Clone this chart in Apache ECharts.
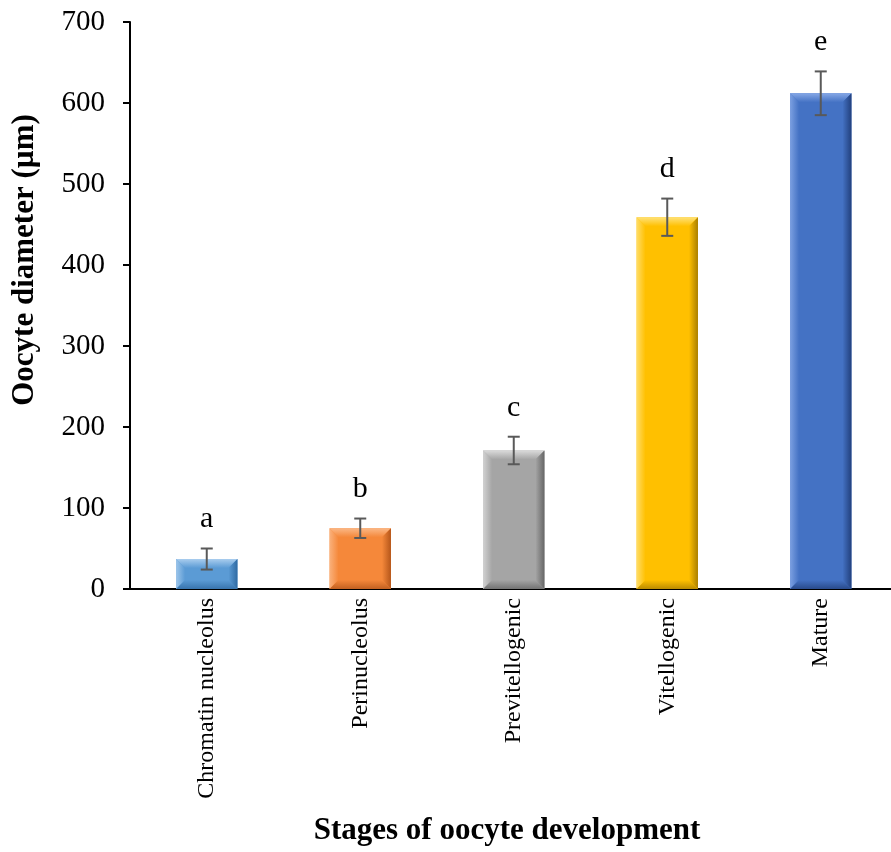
<!DOCTYPE html>
<html>
<head>
<meta charset="utf-8">
<script src="https://cdn.jsdelivr.net/npm/echarts@6/dist/echarts.min.js"></script>
<style>
  html, body { margin: 0; padding: 0; background: #fff; overflow: hidden; }
  #chart { width: 905px; height: 852px; }
</style>
</head>
<body>
<div id="chart"></div>
<script>
// Oocyte development stages and mean diameters (µm) with error margins
const stages = ['Chromatin nucleolus', 'Perinucleolus', 'Previtellogenic', 'Vitellogenic', 'Mature'];
const meanDiameter = [37, 75, 171, 459, 612];
const errorMargin = [13, 12, 17, 23, 27];
const groupLetters = ['a', 'b', 'c', 'd', 'e'];
const yTicks = { min: 0, max: 700, step: 100 };

// Bevelled bar palette: [base, highlight, shade]
const palette = [
  ['#5B9BD5', '#A9CDEE', '#2F6AA3'],
  ['#F5883A', '#FBB887', '#B5561A'],
  ['#A5A5A5', '#DADADA', '#666666'],
  ['#FFC000', '#FFE27A', '#A97E00'],
  ['#4472C4', '#86A8E6', '#22407D']
];

const serif = '"Liberation Serif", "Times New Roman", serif';
const chart = echarts.init(document.getElementById('chart'));

function grad(x, y, x2, y2, c1, c2) {
  return new echarts.graphic.LinearGradient(x, y, x2, y2, [
    { offset: 0, color: c1 }, { offset: 1, color: c2 }
  ]);
}

function renderBevelBar(params, api) {
  const i = api.value(0);
  const v = api.value(1);
  const top = api.coord([i, v]);
  const base = api.coord([i, 0]);
  const w = api.size([1, 0])[0] * 0.4;
  const x0 = top[0] - w / 2, x1 = top[0] + w / 2;
  const y0 = top[1], yb = base[1];
  const b = Math.min(9, (yb - y0) / 2);
  const c = palette[i];
  return {
    type: 'group',
    children: [
      { type: 'rect', shape: { x: x0, y: y0, width: w, height: yb - y0 }, style: { fill: c[0] } },
      { type: 'polygon', shape: { points: [[x0, y0], [x1, y0], [x1 - b, y0 + b], [x0 + b, y0 + b]] },
        style: { fill: grad(0, 0, 0, 1, c[1], c[0]) } },
      { type: 'polygon', shape: { points: [[x0, y0], [x0 + b, y0 + b], [x0 + b, yb - b], [x0, yb]] },
        style: { fill: grad(0, 0, 1, 0, c[1], c[0]), opacity: 0.85 } },
      { type: 'polygon', shape: { points: [[x1, y0], [x1, yb], [x1 - b, yb - b], [x1 - b, y0 + b]] },
        style: { fill: grad(1, 0, 0, 0, c[2], c[0]) } },
      { type: 'polygon', shape: { points: [[x0, yb], [x0 + b, yb - b], [x1 - b, yb - b], [x1, yb]] },
        style: { fill: grad(0, 1, 0, 0, c[2], c[0]), opacity: 0.8 } }
    ]
  };
}

function renderErrorBar(params, api) {
  const i = api.value(0);
  const v = api.value(1);
  const e = api.value(2);
  const hi = api.coord([i, v + e]);
  const lo = api.coord([i, v - e]);
  const cap = 6;
  const stroke = { stroke: '#595959', lineWidth: 2 };
  return {
    type: 'group',
    children: [
      { type: 'line', shape: { x1: hi[0], y1: hi[1], x2: lo[0], y2: lo[1] }, style: stroke },
      { type: 'line', shape: { x1: hi[0] - cap, y1: hi[1], x2: hi[0] + cap, y2: hi[1] }, style: stroke },
      { type: 'line', shape: { x1: lo[0] - cap, y1: lo[1], x2: lo[0] + cap, y2: lo[1] }, style: stroke },
      { type: 'text', x: hi[0], y: hi[1] - 14,
        style: { text: groupLetters[i], fill: '#000', font: '30px ' + serif, align: 'center', verticalAlign: 'bottom' } }
    ]
  };
}

chart.setOption({
  animation: false,
  backgroundColor: '#fff',
  grid: { left: 130, top: 22, width: 767.5, height: 567, containLabel: false },
  xAxis: {
    type: 'category',
    data: stages,
    axisLine: { lineStyle: { color: '#000', width: 2 } },
    axisTick: { show: false },
    axisLabel: { rotate: 90, fontFamily: serif, fontSize: 24, color: '#000', margin: 9, interval: 0 }
  },
  yAxis: {
    type: 'value',
    min: yTicks.min, max: yTicks.max, interval: yTicks.step,
    splitLine: { show: false },
    axisLine: { show: true, lineStyle: { color: '#000', width: 2 } },
    axisTick: { show: true, length: 7, lineStyle: { color: '#000', width: 2 } },
    axisLabel: { fontFamily: serif, fontSize: 29, color: '#000', margin: 25 }
  },
  graphic: [
    { type: 'text', x: 25, y: 260, rotation: Math.PI / 2,
      style: { text: 'Oocyte diameter (µm)', font: 'bold 31px ' + serif, fill: '#000', align: 'center', verticalAlign: 'middle' } },
    { type: 'text', x: 507, y: 831,
      style: { text: 'Stages of oocyte development', font: 'bold 31px ' + serif, fill: '#000', align: 'center', verticalAlign: 'middle' } }
  ],
  series: [
    {
      type: 'custom',
      renderItem: renderBevelBar,
      data: meanDiameter.map((v, i) => [i, v]),
      encode: { x: 0, y: 1 },
      z: 2
    },
    {
      type: 'custom',
      renderItem: renderErrorBar,
      data: meanDiameter.map((v, i) => [i, v, errorMargin[i]]),
      encode: { x: 0, y: 1 },
      z: 3
    }
  ]
});
</script>
</body>
</html>
